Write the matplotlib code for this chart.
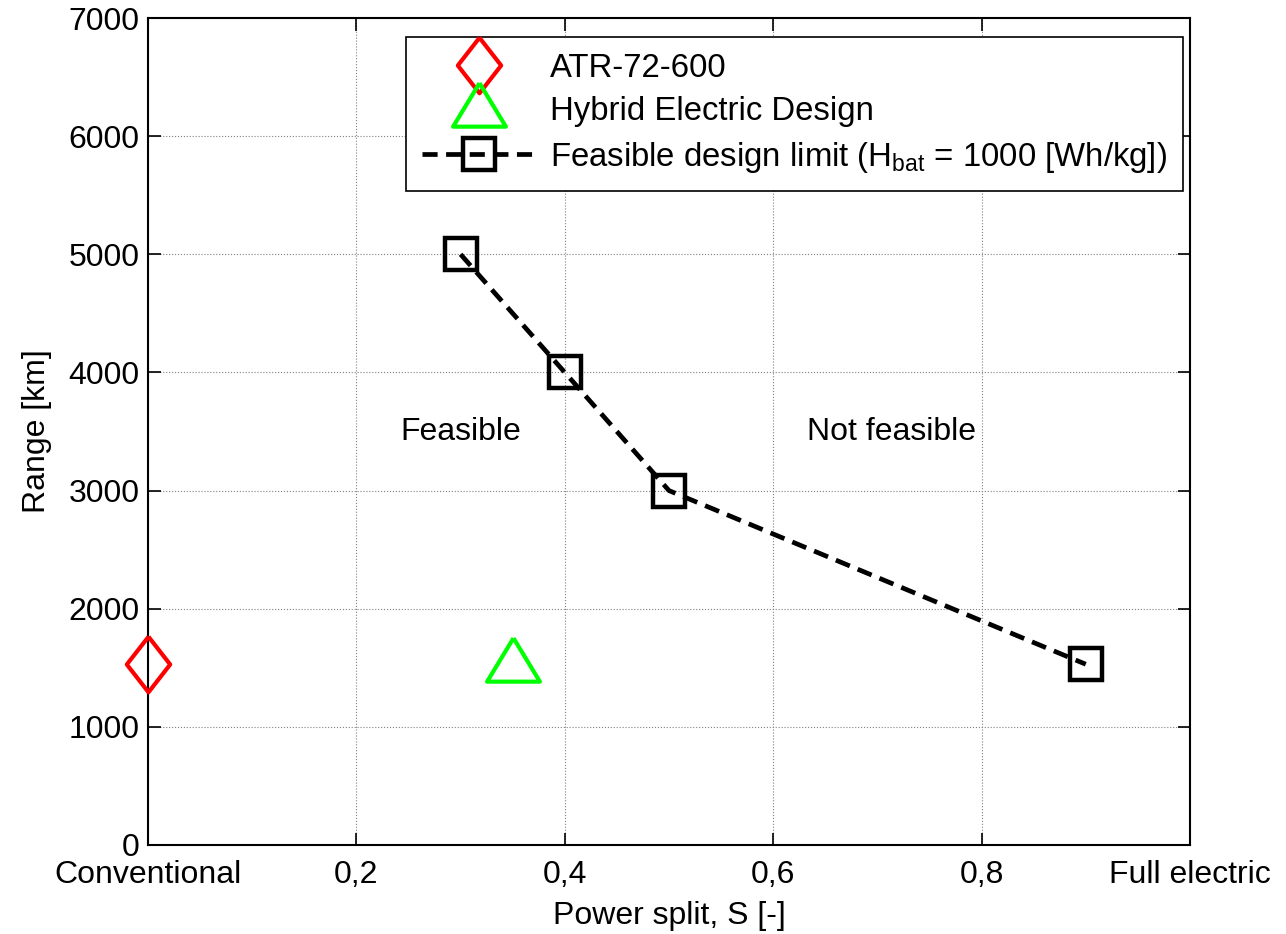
import numpy as np
import matplotlib
matplotlib.use('Agg')
import matplotlib.pyplot as plt

plt.rcParams['font.family'] = ['Liberation Sans', 'DejaVu Sans']
plt.rcParams['mathtext.fontset'] = 'custom'
plt.rcParams['mathtext.rm'] = 'Liberation Sans'
plt.rcParams['mathtext.it'] = 'Liberation Sans'

# Data
atr_split = [0.0]
atr_range = [1530]
hybrid_split = [0.35]
hybrid_range = [1530]
limit_split = [0.3, 0.4, 0.5, 0.9]
limit_range = [5000, 4000, 3000, 1530]

x_ticks = [0, 0.2, 0.4, 0.6, 0.8, 1.0]
x_tick_labels = ['Conventional', '0,2', '0,4', '0,6', '0,8', 'Full electric']
y_ticks = [0, 1000, 2000, 3000, 4000, 5000, 6000, 7000]

FS = 23

# MATLAB-like marker shapes
diamond = [(0, 1), (0.78, 0), (0, -1), (-0.78, 0), (0, 1)]
triangle = [(0, 1), (1, -0.65), (-1, -0.65), (0, 1)]

fig = plt.figure(figsize=(12.86, 9.34), dpi=100)
ax = fig.add_axes([0.1151, 0.0953, 0.8102, 0.8854])

ax.plot(atr_split, atr_range, linestyle='none', marker=diamond, markersize=40,
        markeredgewidth=3, markeredgecolor='#ff0000', markerfacecolor='none',
        label='ATR-72-600', clip_on=False, zorder=5)
ax.plot(hybrid_split, hybrid_range, linestyle='none', marker=triangle, markersize=38,
        markeredgewidth=3, markeredgecolor='#00ff00', markerfacecolor='none',
        label='Hybrid Electric Design', zorder=5)
ax.plot(limit_split, limit_range, color='black', linewidth=3.4,
        linestyle=(0, (3.2, 1.8)), marker='s', markersize=23, markeredgewidth=3.2,
        markerfacecolor='none', markeredgecolor='black',
        label=r'Feasible design limit (H$_{\mathrm{bat}}$ = 1000 [Wh/kg])', zorder=4)

ax.text(0.3, 3500, 'Feasible', fontsize=FS, ha='center', va='center')
ax.text(0.714, 3500, 'Not feasible', fontsize=FS, ha='center', va='center')

ax.set_xlim(0, 1)
ax.set_ylim(0, 7000)
ax.set_xticks(x_ticks)
ax.set_xticklabels(x_tick_labels)
ax.set_yticks(y_ticks)
ax.tick_params(direction='in', length=9, width=1.2, labelsize=FS,
               top=True, right=True)
ax.tick_params(axis='x', pad=10.5)
ax.tick_params(axis='y', pad=6)
ax.grid(True, color='#808080', linestyle=':', linewidth=0.8)
for s in ax.spines.values():
    s.set_linewidth(1.5)

ax.set_xlabel('Power split, S [-]', fontsize=FS, labelpad=8)
ax.set_ylabel('Range [km]', fontsize=FS, labelpad=12)

leg = ax.legend(loc='upper right', bbox_to_anchor=(0.9933, 0.977), fontsize=23.7,
                fancybox=False, framealpha=1, edgecolor='black', borderpad=0.48,
                labelspacing=0.38, handlelength=3.5, handletextpad=0.4,
                borderaxespad=0)
leg.get_frame().set_linewidth(1.2)

fig.savefig('out.png', dpi=100)
